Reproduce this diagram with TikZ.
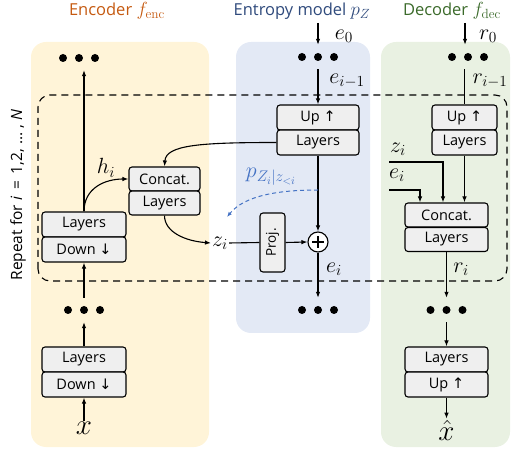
\RequirePackage{fix-cm}
\documentclass[tikz,border=0pt]{standalone}
\usepackage{fontspec}
\setsansfont{Open Sans}
\newfontfamily\arrowsym{DejaVu Sans}
\usetikzlibrary{arrows.meta,calc}
\definecolor{encbg}{HTML}{FFF4D8}
\definecolor{entbg}{HTML}{E3E9F5}
\definecolor{decbg}{HTML}{E9F1E2}
\definecolor{boxbg}{HTML}{EFEFEF}
\definecolor{enctxt}{HTML}{C55A11}
\definecolor{enttxt}{HTML}{2F4A7C}
\definecolor{dectxt}{HTML}{3B6A2A}
\definecolor{probcol}{HTML}{4472C4}
\begin{document}
\begin{tikzpicture}[x=1pt,y=1pt,
  blk/.style={draw, fill=boxbg, rounded corners=3pt, line width=1.1pt,
    font=\sffamily\fontsize{14.5}{14.5}\selectfont, inner sep=0pt, minimum height=25pt},
  arr/.style={line width=1.1pt, -{Latex[length=6pt,width=4.5pt]}},
  ln/.style={line width=1.1pt},
  lab/.style={font=\fontsize{22}{22}\selectfont, inner sep=1pt},
  title/.style={font=\sffamily\fontsize{16.5}{16.5}\selectfont},
  dotrow/.style={minimum width=44pt, minimum height=24pt, inner sep=0pt,
    path picture={\foreach \k in {-1,0,1}
      \fill ($(path picture bounding box.center)+(\k*16pt,0)$) circle (4pt);}},
]
\useasboundingbox (0,0) rectangle (514,450);

% column backgrounds
\fill[encbg, rounded corners=15pt] (31,3) rectangle (209,408);
\fill[entbg, rounded corners=15pt] (236,117) rectangle (370,408);
\fill[decbg, rounded corners=15pt] (381,3) rectangle (510,408);

% column titles
\node[title, text=enctxt] (tenc) at (117,439) {Encoder \fontsize{19}{19}\selectfont$f_{\mathrm{enc}}$};
\node[title, text=enttxt] (tent) at (302,439) {Entropy model \fontsize{19}{19}\selectfont$p_Z$};
\node[title, text=dectxt] (tdec) at (452,439) {Decoder \fontsize{19}{19}\selectfont$f_{\mathrm{dec}}$};

% repeated block
\draw[ln, dash pattern=on 7pt off 5pt, rounded corners=12pt] (38,169) rectangle (507,355);
\node[rotate=90, font=\sffamily\fontsize{15.5}{15.5}\selectfont] (rep) at (18,255)
  {Repeat for \textit{i}\hspace{0.45em}=\hspace{0.45em}1,2,\hspace{0.3em}…\hspace{0.2em},\hspace{0.3em}\textit{N}};

% ---------------- encoder ----------------
\node[dotrow] (eDots1) at (79,392) {};
\node[blk, minimum width=84pt] (eL1) at (84,225.5) {Layers};
\node[blk, minimum width=84pt] (eD1) at (84,200.5) {Down {\arrowsym ↓}};
\node[dotrow] (eDots2) at (84,140) {};
\node[blk, minimum width=84pt] (eL2) at (84,90.5) {Layers};
\node[blk, minimum width=84pt] (eD2) at (84,65.5) {Down {\arrowsym ↓}};
\node[lab, font=\fontsize{29}{29}\selectfont] (xin) at (84,22) {$x$};

\node[blk, minimum width=71pt, minimum height=24pt] (eC) at (164.5,271) {Concat.};
\node[blk, minimum width=71pt, minimum height=24pt] (eCL) at (164.5,247) {Layers};
\node[lab] (hi) at (106,282) {$h_i$};
\node[lab] (zi) at (220,207) {$z_i$};

\draw[arr] (xin.north) -- (eD2.south);
\draw[arr] (eL2.north) -- (eL2.north |- eDots2.south);
\draw[arr] (eL2.north |- eDots2.north) -- (eD1.south);
\draw[arr] (eL1.north) -- (eL1.north |- eDots1.south);
\draw[arr] (eL1.north) .. controls (84,262) and (105,271) .. (eC.west);
\draw[arr] (eCL.south) .. controls (164.5,218) and (185,209) .. (zi.west);

% ---------------- entropy model ----------------
\coordinate (e0start) at (318,427);
\node[lab] (e0) at (344,414) {$e_0$};
\node[dotrow] (nDots1) at (318,393) {};
\node[lab] (eim1) at (347,369) {$e_{i-1}$};
\node[blk, minimum width=82pt] (nU) at (318,332.5) {Up {\arrowsym ↑}};
\node[blk, minimum width=82pt] (nL) at (318,307.5) {Layers};
\node[circle, draw, line width=1.1pt, fill=white, minimum size=20pt, inner sep=0pt] (plus) at (318,208) {};
\draw[line width=1.4pt] ($(plus.center)+(-6,0)$) -- ($(plus.center)+(6,0)$)
  ($(plus.center)+(0,-6)$) -- ($(plus.center)+(0,6)$);
\node[blk, minimum width=25pt, minimum height=59pt] (proj) at (272.5,207.5)
  {\rotatebox{90}{\fontsize{13.5}{13.5}\selectfont Proj.}};
\node[lab] (ei) at (334,181) {$e_i$};
\node[dotrow] (nDots2) at (318,140) {};
\node[lab, text=probcol, font=\fontsize{22}{22}\selectfont] (pz) at (271,273) {$p_{Z_i|z_{<i}}$};
\coordinate (pstart) at (318,260);
\coordinate (pend) at (227,233);

\draw[arr] (e0start) -- (nDots1.north);
\draw[arr] (nDots1.south) -- (nU.north);
\draw[arr] (nL.west) .. controls (200,307.5) and (166,305) .. (eC.north);
\draw[arr] (nL.south) -- (plus.north);
\draw[ln] (zi.east) -- (proj.west);
\draw[arr] (proj.east) -- (plus.west);
\draw[arr] (plus.south) -- (nDots2.north);
\draw[line width=1pt, probcol, dash pattern=on 4pt off 3pt, -{Latex[length=5pt,width=4pt]}]
  (pstart) .. controls (280,260) and (245,255) .. (pend);

% ---------------- decoder ----------------
\coordinate (r0start) at (465,427);
\node[lab] (r0) at (488,414) {$r_0$};
\node[dotrow] (dDots1) at (468,393) {};
\node[lab] (rim1) at (490,369) {$r_{i-1}$};
\node[blk, minimum width=65pt] (dU) at (464.5,332.5) {Up {\arrowsym ↑}};
\node[blk, minimum width=65pt] (dL) at (464.5,307.5) {Layers};
\node[blk, minimum width=83pt, minimum height=24pt] (dC) at (446.5,235) {Concat.};
\node[blk, minimum width=83pt, minimum height=24pt] (dCL) at (446.5,210.5) {Layers};
\node[lab] (zd) at (398,301) {$z_i$};
\node[lab] (ed) at (397,275) {$e_i$};
\coordinate (zdin) at (389,288);
\coordinate (edin) at (389,260);
\node[lab] (ri) at (461,181) {$r_i$};
\node[dotrow] (dDots2) at (446.5,140) {};
\node[blk, minimum width=83pt] (dL2) at (446.5,90.5) {Layers};
\node[blk, minimum width=83pt] (dU2) at (446.5,65.5) {Up {\arrowsym ↑}};
\node[lab, font=\fontsize{29}{29}\selectfont] (xhat) at (446.5,20) {$\hat{x}$};

\draw[arr] (r0start) -- (r0start |- dDots1.north);
\draw[ln] (dU.north |- dDots1.south) -- (dU.north);
\draw[arr] (dL.south) -- (dL.south |- dC.north);
\draw[arr] (zdin) -| ($(dC.north)+(-3.5,0)$);
\draw[arr] (edin) -| ($(dC.north)+(-26.5,0)$);
\draw[arr] (dCL.south) -- (dDots2.north);
\draw[arr] (dDots2.south) -- (dL2.north);
\draw[arr] (dU2.south) -- (xhat.north);
\end{tikzpicture}
\end{document}
